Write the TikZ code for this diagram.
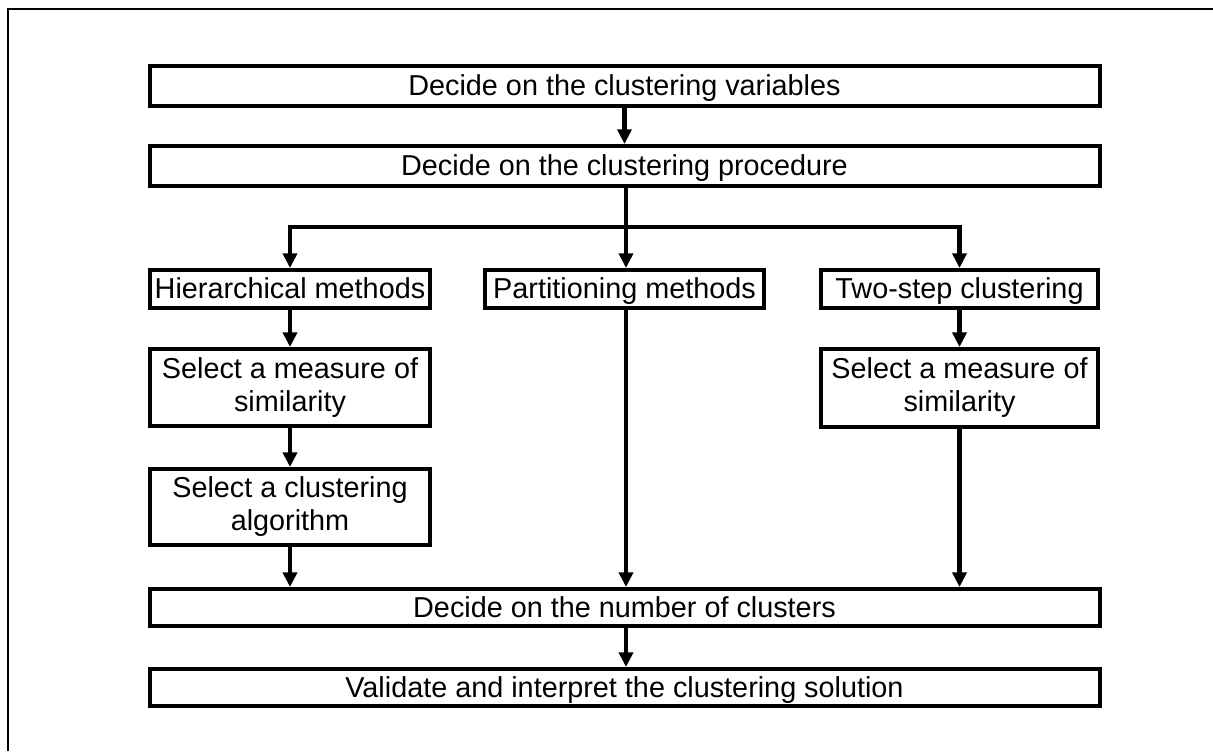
\documentclass[tikz,border=0pt]{standalone}
\usepackage{fontspec}
\setmainfont{Liberation Sans}
\usetikzlibrary{arrows.meta}
\begin{document}
\begin{tikzpicture}[x=0.75pt,y=-0.75pt,
  stepbox/.style={draw=black, line width=3pt, fill=white, inner sep=0pt,
    align=center, font=\fontsize{21.6pt}{24.8pt}\selectfont},
  oneline/.style={stepbox, text height=15.5pt, text depth=0.6pt},
  wide/.style={oneline, minimum width=950pt*0.75, minimum height=40pt*0.75},
  flow/.style={line width=3.5pt, -{Triangle[length=11pt,width=10.5pt]}},
  link/.style={line width=3.5pt}]
\useasboundingbox (0,0) rectangle (1213,751);
% outer frame (only top and left edges visible)
\draw[line width=1.6pt] (8,751) -- (8,9) -- (1213,9);

% main sequence
\node[wide] (vars) at (624.5,86) {Decide on the clustering variables};
\node[wide] (proc) at (624.5,166) {Decide on the clustering procedure};

% three method branches
\node[oneline, minimum width=280pt*0.75, minimum height=38pt*0.75] (hier) at (290,289) {Hierarchical methods};
\node[oneline, minimum width=279pt*0.75, minimum height=38pt*0.75] (part) at (624.5,289) {Partitioning methods};
\node[oneline, minimum width=277pt*0.75, minimum height=38pt*0.75] (two) at (959.5,289) {Two-step clustering};

\node[stepbox, minimum width=280pt*0.75, minimum height=77pt*0.75] (simL) at (290,387.5) {Select a measure of\\similarity};
\node[stepbox, minimum width=280pt*0.75, minimum height=76pt*0.75] (algL) at (290,507) {Select a clustering\\algorithm};
\node[stepbox, minimum width=277pt*0.75, minimum height=78pt*0.75] (simR) at (959.5,388) {Select a measure of\\similarity};

\node[wide, minimum height=37pt*0.75] (num) at (624.5,607.5) {Decide on the number of clusters};
\node[wide, minimum height=37pt*0.75] (val) at (624.5,687.5) {Validate and interpret the clustering solution};

% connectors
\coordinate (bus) at (626,227);
\draw[flow] (vars) -- (proc);
\draw[link] (proc.south -| bus) -- (bus);
\draw[flow] (bus) -| (hier.north);
\draw[flow] (bus) -| (two.north);
\draw[flow] (bus) -- (bus |- part.north);
\draw[flow] (hier) -- (simL);
\draw[flow] (simL) -- (algL);
\draw[flow] (algL.south) -- (algL.south |- num.north);
\draw[flow] (part.south -| bus) -- (bus |- num.north);
\draw[flow] (two) -- (simR);
\draw[flow] (simR.south) -- (simR.south |- num.north);
\draw[flow] (num.south -| bus) -- (bus |- val.north);
\end{tikzpicture}
\end{document}
